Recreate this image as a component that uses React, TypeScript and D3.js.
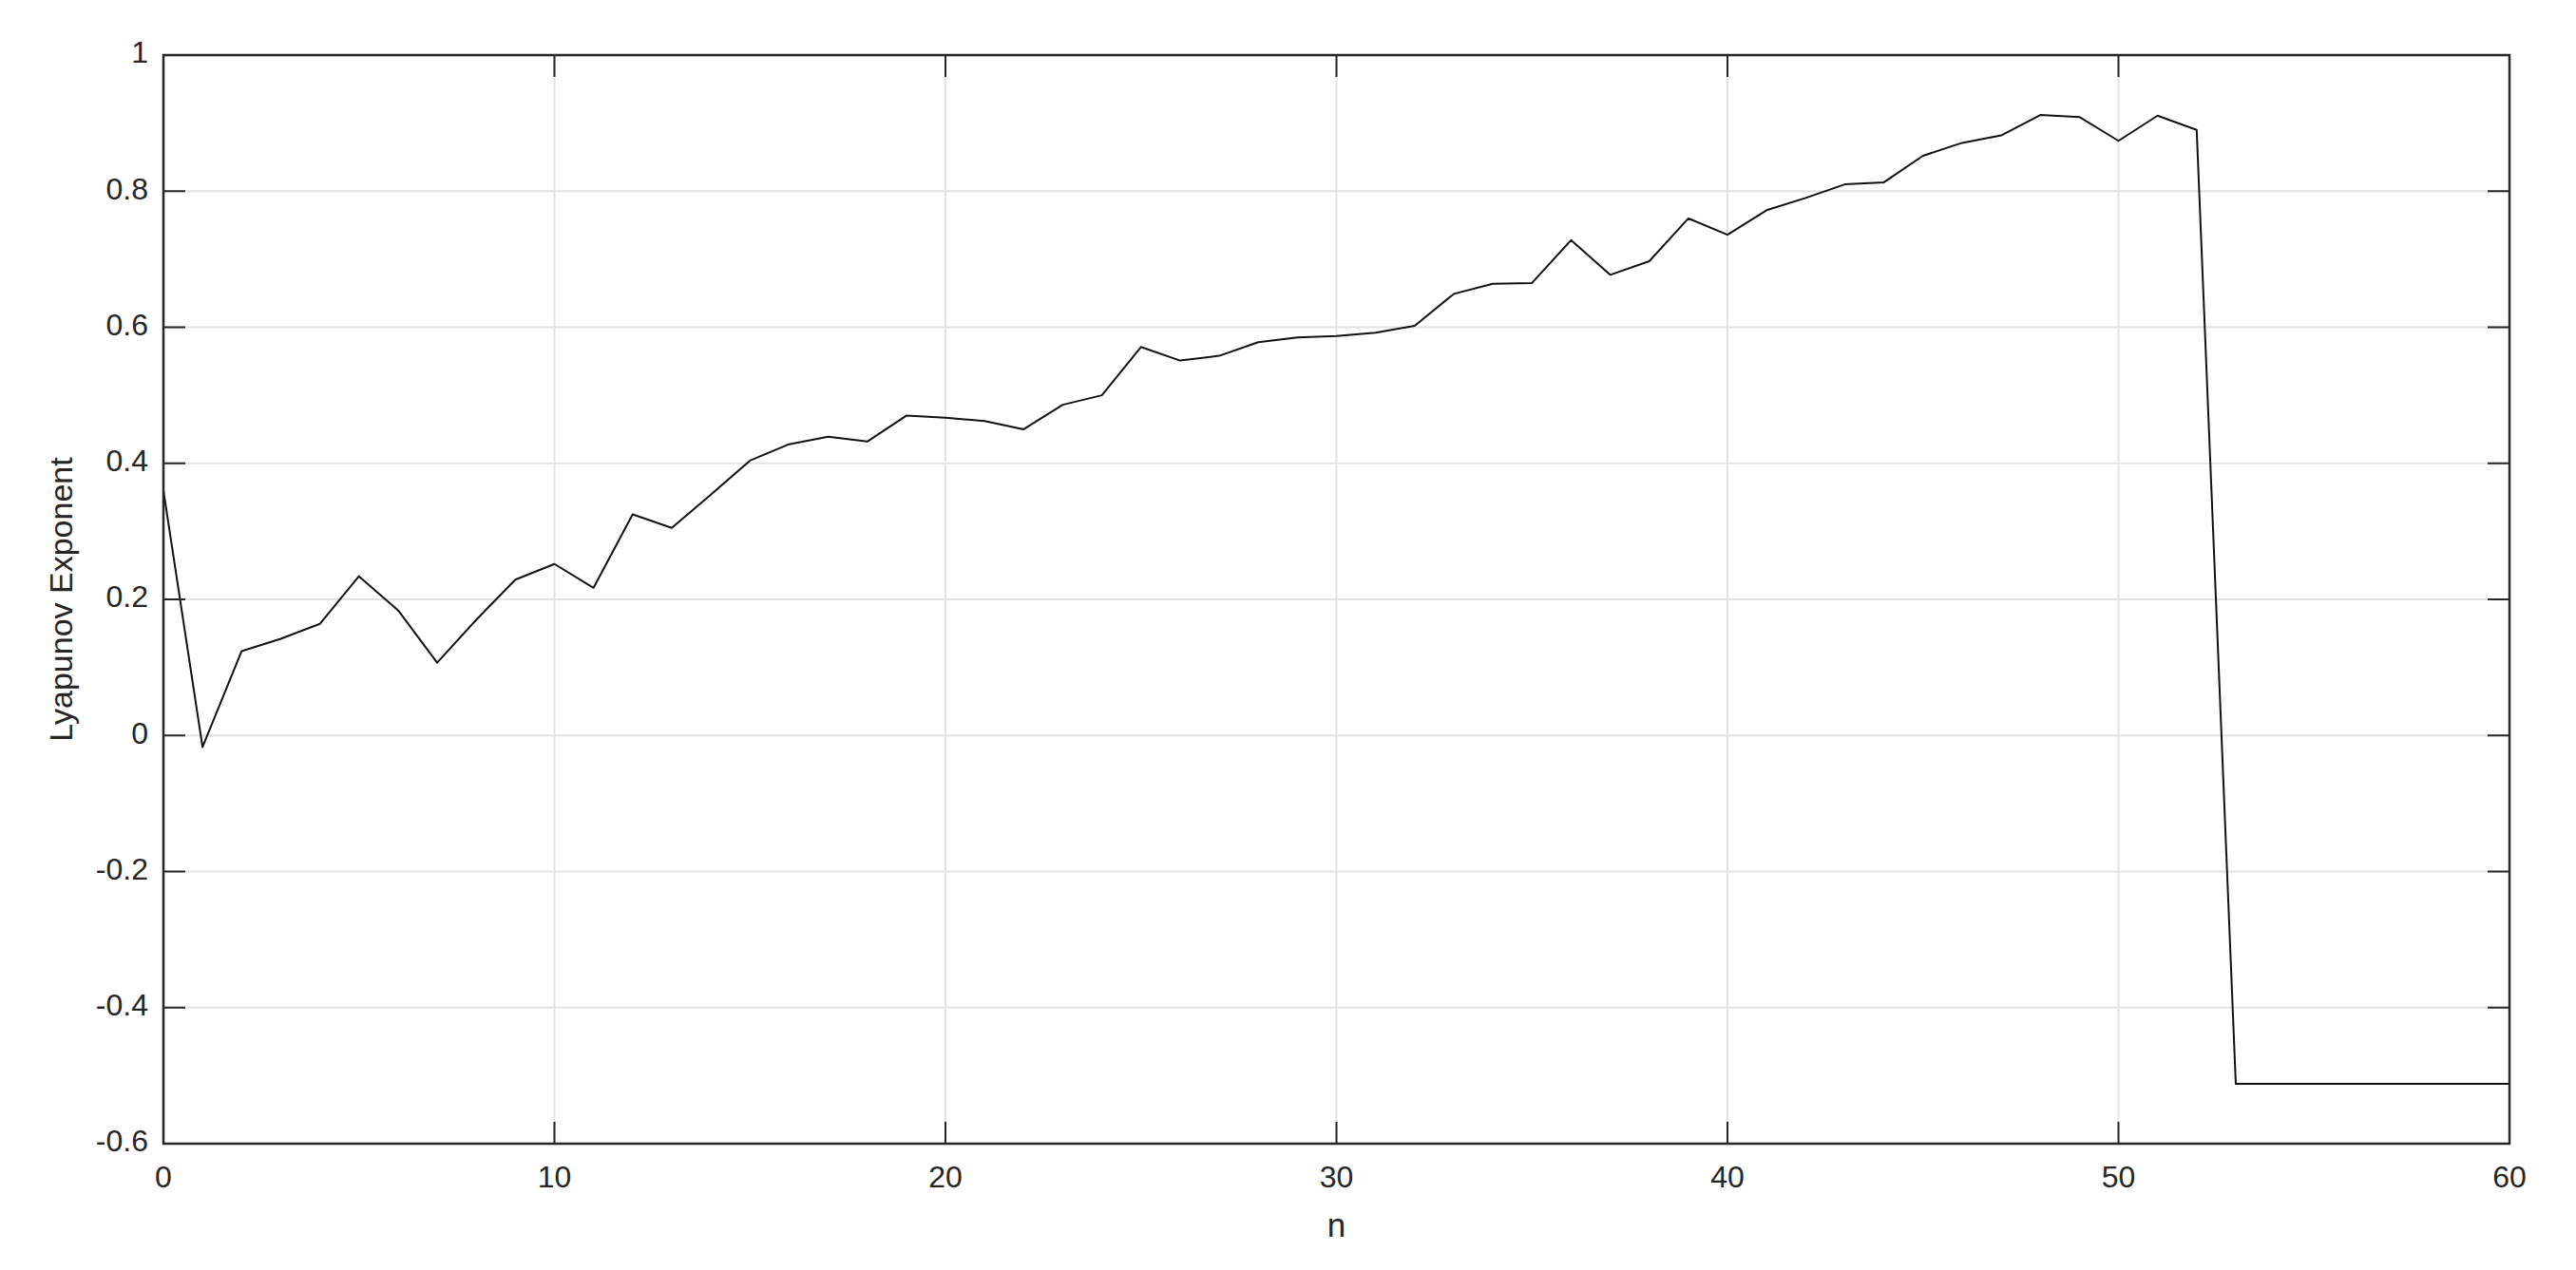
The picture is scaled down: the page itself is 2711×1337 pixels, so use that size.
import React from "react";
import * as d3 from "d3";

const width = 2711;
const height = 1337;
const margin = { top: 58, right: 70, bottom: 133, left: 172 };

// n = 0..60
const nValues = d3.range(0, 61);
const lyapunov = [
  0.36, -0.017, 0.124, 0.142, 0.164, 0.234, 0.184, 0.107, 0.17, 0.229,
  0.252, 0.217, 0.325, 0.305, 0.354, 0.404, 0.428, 0.439, 0.432, 0.47,
  0.467, 0.462, 0.45, 0.486, 0.5, 0.571, 0.551, 0.558, 0.578, 0.585,
  0.587, 0.592, 0.602, 0.649, 0.664, 0.665, 0.728, 0.677, 0.697, 0.76,
  0.736, 0.772, 0.79, 0.81, 0.813, 0.852, 0.871, 0.882, 0.912, 0.909,
  0.874, 0.911, 0.89, -0.512, -0.512, -0.512, -0.512, -0.512, -0.512, -0.512,
  -0.512,
];
const xTicks = [0, 10, 20, 30, 40, 50, 60];
const yTicks = [-0.6, -0.4, -0.2, 0, 0.2, 0.4, 0.6, 0.8, 1];

const axisColor = "#262626";
const gridColor = "#e3e3e3";
const font = "'Liberation Sans', Arial, Helvetica, sans-serif";
const tickLen = 23;

export default function App() {
  const innerW = width - margin.left - margin.right;
  const innerH = height - margin.top - margin.bottom;

  const x = d3.scaleLinear().domain([0, 60]).range([0, innerW]);
  const y = d3.scaleLinear().domain([-0.6, 1]).range([innerH, 0]);

  const line = d3
    .line<number>()
    .x((_, i) => x(nValues[i]))
    .y(d => y(d));

  // plain hyphen for negatives, like MATLAB
  const fmt = (v: number) => String(+v.toFixed(1));

  return (
    <svg
      width={width}
      height={height}
      style={{ position: "absolute", left: 0, top: 0, background: "#fff" }}
    >
      <g transform={`translate(${margin.left},${margin.top})`}>
        {/* grid */}
        {xTicks.map(t => (
          <line key={"gx" + t} x1={x(t)} x2={x(t)} y1={0} y2={innerH} stroke={gridColor} strokeWidth={2} />
        ))}
        {yTicks.map(t => (
          <line key={"gy" + t} x1={0} x2={innerW} y1={y(t)} y2={y(t)} stroke={gridColor} strokeWidth={2} />
        ))}

        {/* data */}
        <path d={line(lyapunov) || ""} fill="none" stroke="#111" strokeWidth={2} strokeLinejoin="round" />

        {/* ticks (inward, all four sides) */}
        {xTicks.map(t => (
          <g key={"tx" + t}>
            <line x1={x(t)} x2={x(t)} y1={innerH} y2={innerH - tickLen} stroke={axisColor} strokeWidth={2} />
            <line x1={x(t)} x2={x(t)} y1={0} y2={tickLen} stroke={axisColor} strokeWidth={2} />
            <text
              x={x(t)}
              y={innerH + 38}
              textAnchor="middle"
              dominantBaseline="middle"
              fontFamily={font}
              fontSize={32}
              fill={axisColor}
            >
              {t}
            </text>
          </g>
        ))}
        {yTicks.map(t => (
          <g key={"ty" + t}>
            <line x1={0} x2={tickLen} y1={y(t)} y2={y(t)} stroke={axisColor} strokeWidth={2} />
            <line x1={innerW - tickLen} x2={innerW} y1={y(t)} y2={y(t)} stroke={axisColor} strokeWidth={2} />
            <text
              x={-16}
              y={y(t)}
              textAnchor="end"
              dominantBaseline="middle"
              fontFamily={font}
              fontSize={32}
              fill={axisColor}
            >
              {fmt(t)}
            </text>
          </g>
        ))}

        {/* box */}
        <rect x={0} y={0} width={innerW} height={innerH} fill="none" stroke={axisColor} strokeWidth={2.5} />

        {/* axis labels */}
        <text
          x={innerW / 2}
          y={innerH + 89}
          textAnchor="middle"
          dominantBaseline="middle"
          fontFamily={font}
          fontSize={35}
          fill={axisColor}
        >
          n
        </text>
        <text
          transform={`translate(${67 - margin.left},${innerH / 2}) rotate(-90)`}
          textAnchor="middle"
          dominantBaseline="middle"
          fontFamily={font}
          fontSize={34}
          fill={axisColor}
        >
          Lyapunov Exponent
        </text>
      </g>
    </svg>
  );
}
